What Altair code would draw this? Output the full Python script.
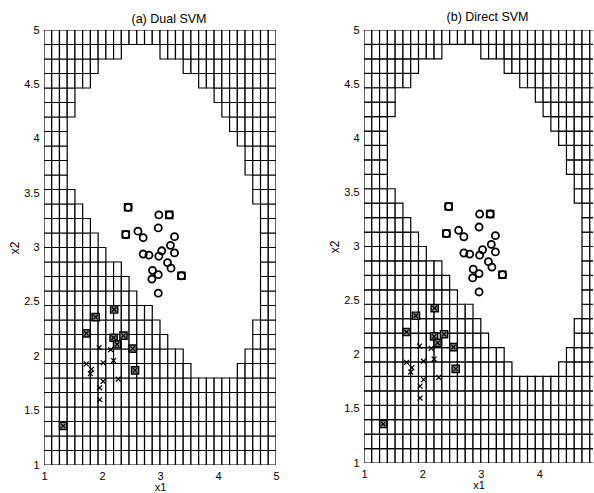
import altair as alt
import pandas as pd

# Grid of the decision-region plot: N x N cells over [1, 5] x [1, 5]
N = 30
LO, HI = 1.0, 5.0

# For each grid row (bottom to top): number of shaded cells counted from the
# left edge, and index of the first shaded column on the right side.
dual_left = [30, 30, 30, 30, 30, 30, 19, 18, 16, 15, 14, 12, 11, 10, 8,
             7, 6, 5, 4, 3, 3, 3, 3, 3, 4, 4, 6, 7, 10, 30]
dual_right = [30, 30, 30, 30, 30, 30, 25, 26, 27, 27, 28, 28, 28, 28, 28,
              28, 28, 28, 27, 27, 26, 26, 25, 24, 23, 22, 20, 18, 15, 30]
direct_left = [30, 30, 30, 30, 30, 30, 19, 18, 16, 15, 14, 12, 11, 10, 8,
               7, 6, 5, 4, 3, 3, 3, 3, 3, 4, 4, 6, 7, 10, 30]
direct_right = [30, 30, 30, 30, 30, 30, 25, 26, 27, 27, 28, 28, 28, 28, 28,
                28, 28, 28, 27, 27, 26, 26, 25, 24, 23, 22, 20, 18, 15, 30]

# Class +1 samples (circles)
pos_x1 = [2.45, 2.98, 3.16, 2.41, 2.62, 2.71, 2.97, 3.25, 3.18, 3.03, 3.25,
          2.71, 2.81, 2.98, 3.13, 3.19, 2.87, 2.97, 2.86, 3.37, 2.97]
pos_x2 = [3.37, 3.30, 3.30, 3.12, 3.15, 3.09, 3.18, 3.10, 3.02, 2.97, 2.95,
          2.94, 2.93, 2.92, 2.86, 2.81, 2.79, 2.75, 2.71, 2.74, 2.58]
# Class +1 support vectors
svp_x1 = [2.45, 3.16, 2.41, 3.37]
svp_x2 = [3.37, 3.30, 3.12, 2.74]

# Class -1 samples (crosses)
neg_x1 = [1.95, 2.15, 1.73, 1.82, 1.80, 2.02, 2.20, 2.02, 1.96, 2.28, 1.96]
neg_x2 = [2.08, 2.06, 1.93, 1.88, 1.84, 1.94, 1.96, 1.77, 1.71, 1.79, 1.60]
# Class -1 support vectors
svn_x1 = [2.21, 1.89, 1.73, 2.20, 2.37, 2.26, 2.53, 2.57, 1.33]
svn_x2 = [2.43, 2.36, 2.21, 2.17, 2.19, 2.11, 2.07, 1.87, 1.36]

FONT = "Liberation Sans"
CROSS = "M-1,-1L1,1M-1,1L1,-1"


def region_cells(left, right):
    step = (HI - LO) / N
    rows = []
    for j in range(N):
        cols = list(range(left[j])) + list(range(right[j], N))
        for c in cols:
            rows.append({"a": LO + c * step, "b": LO + (c + 1) * step,
                         "lo": LO + j * step, "hi": LO + (j + 1) * step})
    return pd.DataFrame(rows)


pos_df = pd.DataFrame({"x1": pos_x1, "x2": pos_x2})
svp_df = pd.DataFrame({"x1": svp_x1, "x2": svp_x2})
neg_df = pd.DataFrame({"x1": neg_x1, "x2": neg_x2})
svn_df = pd.DataFrame({"x1": svn_x1, "x2": svn_x2})


def panel(title, left, right, w, h, toff, xmax, xticks):
    xs = alt.Scale(domain=[LO, xmax], nice=False, zero=False)
    ys = alt.Scale(domain=[LO, HI], nice=False, zero=False)
    xa = alt.Axis(values=xticks, format="~g", labelPadding=5, titlePadding=0.5,
                  titleFontSize=11)
    ya = alt.Axis(values=[1, 1.5, 2, 2.5, 3, 3.5, 4, 4.5, 5], format="~g")

    def enc(ch):
        return ch.encode(
            x=alt.X("x1:Q", scale=xs, axis=xa, title="x1"),
            y=alt.Y("x2:Q", scale=ys, axis=ya, title="x2"),
        )

    grid = alt.Chart(region_cells(left, right)).mark_rect(
        fill="white", stroke="black", strokeWidth=1.2, clip=True
    ).encode(
        x=alt.X("a:Q", scale=xs, axis=xa, title="x1"), x2="b:Q",
        y=alt.Y("lo:Q", scale=ys, axis=ya, title="x2"), y2="hi:Q",
    )
    circles = enc(alt.Chart(pos_df).mark_point(
        shape="circle", filled=False, color="black", size=50, strokeWidth=1.8,
        opacity=1))
    sv_pos = enc(alt.Chart(svp_df).mark_point(
        shape="square", filled=False, color="black", size=48, strokeWidth=1.6,
        opacity=1))
    crosses = enc(alt.Chart(neg_df).mark_point(
        shape=CROSS, filled=False, color="black", size=24, strokeWidth=1.2,
        opacity=1))
    sv_box = enc(alt.Chart(svn_df).mark_point(
        shape="square", filled=True, fill="#8a8a8a", stroke="black",
        size=52, strokeWidth=1.4, opacity=1))
    sv_cross = enc(alt.Chart(svn_df).mark_point(
        shape=CROSS, filled=False, color="black", size=20, strokeWidth=1.2,
        opacity=1))
    return alt.layer(grid, circles, sv_pos, crosses, sv_box, sv_cross).properties(
        width=w, height=h,
        title=alt.TitleParams(title, fontSize=12.5, font=FONT, fontWeight="normal",
                              color="black", dx=9, offset=toff),
    )


left_panel = panel("(a) Dual SVM", dual_left, dual_right, 232, 435, -1,
                   5.0, [1, 2, 3, 4, 5])
# The second panel runs off the right edge of the figure, just short of x1 = 5
right_panel = panel("(b) Direct SVM", direct_left, direct_right, 229, 433, 1,
                    4.921, [1, 2, 3, 4])

chart = alt.hconcat(left_panel, right_panel, spacing=48).properties(
    padding={"left": 8, "top": 10, "right": 0, "bottom": 0}
).configure_view(strokeWidth=0).configure_axis(
    labelFont=FONT, labelFontSize=11, labelColor="black",
    titleFont=FONT, titleFontSize=12, titleColor="black", titleFontWeight="normal",
    ticks=False, tickSize=0, domain=False, grid=False, labelPadding=5,
    titlePadding=2, labelFlush=False,
).configure_title(anchor="middle")

chart.save("out.html", embed_options={"renderer": "svg", "actions": False})
